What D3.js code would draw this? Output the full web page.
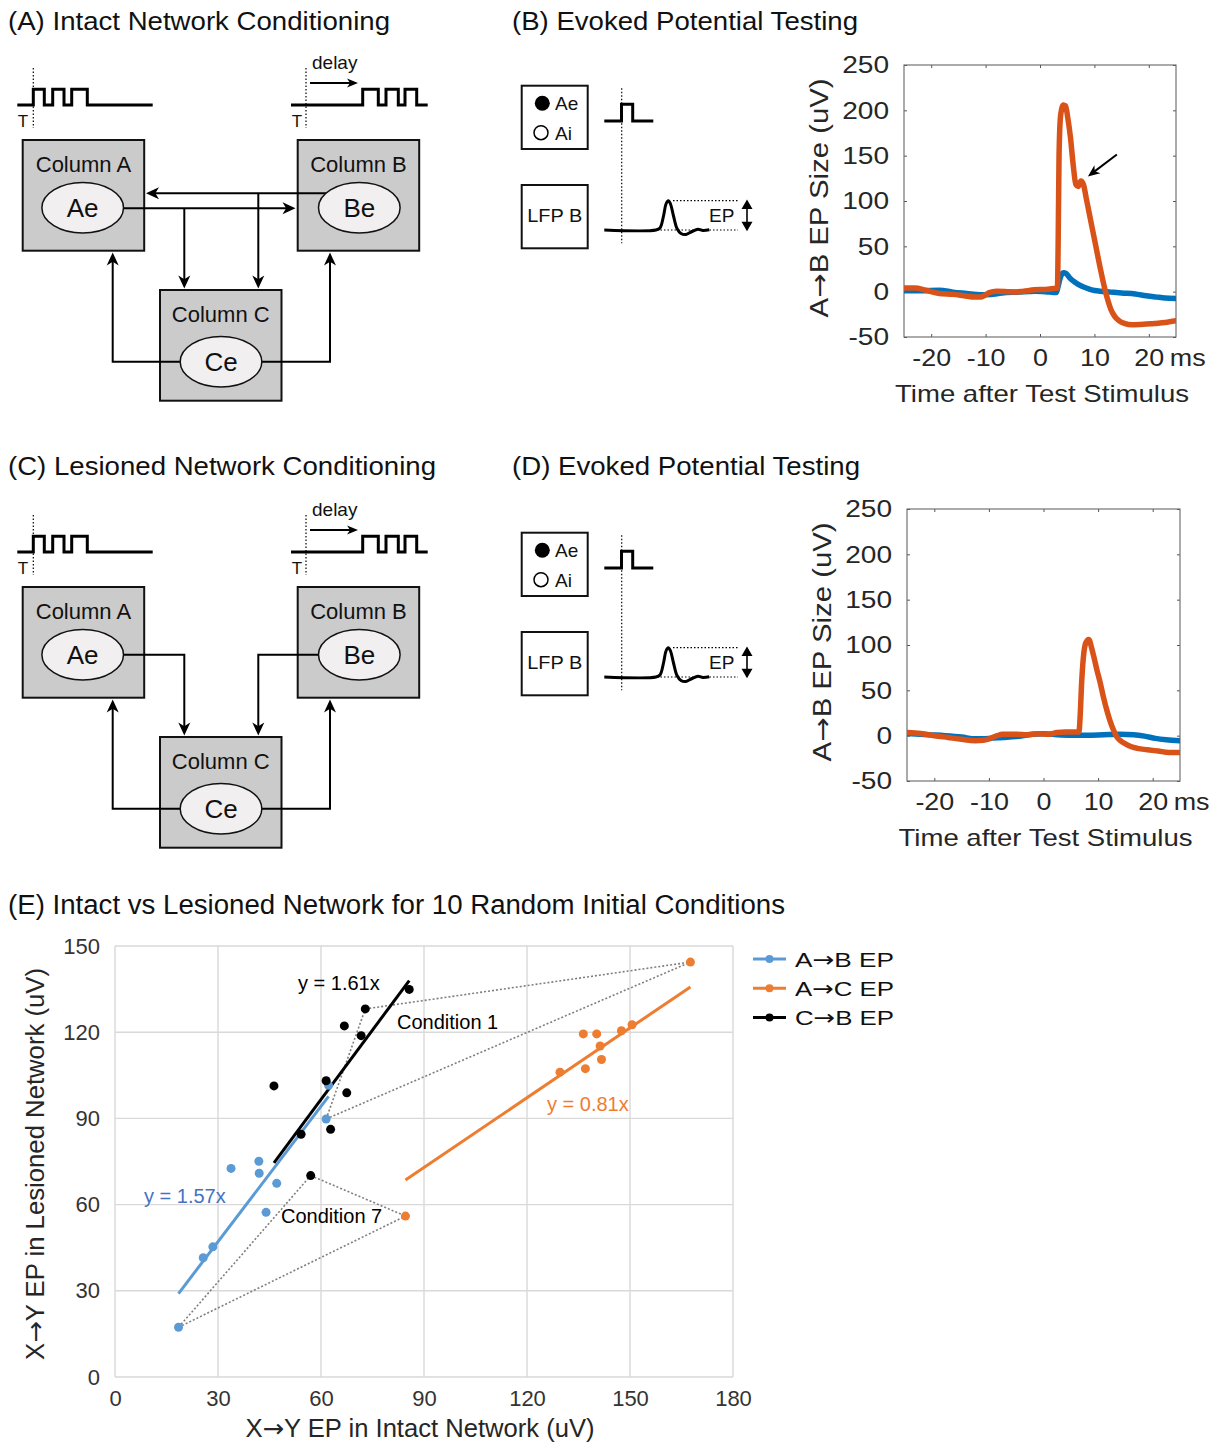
<!DOCTYPE html>
<html>
<head>
<meta charset="utf-8">
<title>Network conditioning and evoked potentials</title>
<script src="https://cdn.jsdelivr.net/npm/d3@7"></script>
<style>
  html, body { margin: 0; padding: 0; background: #fff; }
  svg { display: block; }
  text { font-family: "Liberation Sans", Arial, Helvetica, sans-serif; }
  tspan.arr { font-family: "DejaVu Sans", sans-serif; }
</style>
</head>
<body>
<svg id="fig" width="1213" height="1444" viewBox="0 0 1213 1444"></svg>
<script>
// ---------- Evoked potential traces: [time after test stimulus (ms), EP (uV)] ----------
const timeTicks = [-20, -10, 0, 10, 20];
const epTicks = [-50, 0, 50, 100, 150, 200, 250];

const intactOrange = [[-25,4],[-23,4],[-21,1.5],[-18.5,-2],[-16,-3],[-14,-4.5],[-12,-6],[-11,-6],
  [-10,-3.5],[-9.3,-1],[-8,0.5],[-6,0],[-4.5,-0.5],[-3,0.5],[-1,2],[1,2.5],[2.5,3.5],[3.2,4],
  [3.35,60],[3.5,150],[3.8,195],[4.3,206],[4.7,205],[5.1,192],[5.6,170],[6.1,140],[6.6,118],
  [7.0,116],[7.5,122],[8.0,118],[8.5,103],[9.0,88],[9.5,73],[10.0,58],[10.5,43],[11.0,28],
  [11.5,14],[12.0,1],[12.5,-10],[13.0,-19],[13.7,-27],[14.5,-32],[15.5,-35],[17,-36.5],
  [19,-36],[21,-35],[23,-34],[25,-32]];
const intactBlue = [[-25,1],[-22,1],[-18.5,1.5],[-16,-0.5],[-13.5,-2],[-11,-3.5],[-9,-3],[-7,-1.5],
  [-4,-0.5],[-1,0.5],[1,0],[3,-1],[3.3,5],[3.7,15],[4.3,21],[4.8,20],[5.5,15],[6.5,10],[7.5,6.5],
  [8.5,4],[9.5,2],[11,0.5],[13,-0.5],[15,-1.5],[17.5,-2.5],[19.5,-4.5],[21.5,-6],[23,-7],[25,-7.5]];
const lesionedOrange = [[-25,3.5],[-22.5,2.5],[-20,0],[-17.5,-2],[-15,-4],[-12.5,-5.5],[-11,-5],
  [-10,-3.5],[-8.5,0],[-7.5,1.5],[-5,1.5],[-3,1],[-1,2],[1,1.5],[2.5,3.5],[4,4],[6.5,4],[6.7,20],
  [7.0,60],[7.4,92],[7.8,103],[8.3,106],[8.8,97],[9.3,85],[9.8,72],[10.4,58],[11,42],[11.6,28],
  [12.2,16],[12.9,5],[13.5,-2],[14.2,-6],[15,-9],[16,-12],[17.2,-14],[19,-15.5],[21,-17],
  [23,-18.5],[25,-18.5]];
const lesionedBlue = [[-25,2.5],[-21,1],[-18,0],[-15,-1.5],[-12.5,-3.5],[-10,-3],[-7.5,-2],[-5,-1],
  [-2,1.5],[0,2],[2.5,1],[5,0.5],[8,0.5],[11,1],[14,1.5],[16.5,1],[18.5,-0.5],[20.5,-3],
  [22.5,-4.5],[25,-5.5]];

// ---------- Panel E: EP sizes (uV) for 10 initial conditions (index 0 = Condition 1) ----------
const conditionIds = [1, 2, 3, 4, 5, 6, 7, 8, 9, 10];
const abIntact   = [61.5, 25.7, 28.5, 33.8, 41.9, 42.0, 18.5, 47.1, 44.0, 62.2];
const abLesioned = [89.8, 41.5, 45.3, 72.6, 75.1, 70.9, 17.3, 67.4, 57.3, 101.5];
const acIntact   = [167.6, 136.4, 140.3, 147.5, 150.6, 141.3, 84.6, 141.7, 137.0, 129.6];
const acLesioned = [144.4, 119.4, 119.4, 120.5, 122.6, 115.2, 56.0, 110.5, 107.3, 106.1];
const cbIntact   = [72.9, 85.7, 66.8, 71.7, 46.3, 61.5, 57.0, 67.5, 54.2, 62.8];
const cbLesioned = [128.1, 134.9, 122.2, 118.8, 101.3, 103.1, 70.1, 98.9, 84.5, 86.2];
const fitSlopes = [1.57, 0.81, 1.61];          // A->B, A->C, C->B
const seriesNames = ['A\u2192B EP', 'A\u2192C EP', 'C\u2192B EP'];
const highlighted = [1, 7];                      // conditions linked by dotted lines
const xTicksE = [0, 30, 60, 90, 120, 150, 180];
const yTicksE = [0, 30, 60, 90, 120, 150];

// ---------- helpers ----------
const svg = d3.select('#fig');
svg.append('rect').attr('width', 1213).attr('height', 1444).attr('fill', '#fff');
const defs = svg.append('defs');

function fitWidth(sel, w) {
  sel.attr('textLength', w).attr('lengthAdjust', 'spacingAndGlyphs');
}
function stretch(sel, k) {
  sel.each(function () {
    const w = this.getComputedTextLength();
    d3.select(this).attr('textLength', w * k).attr('lengthAdjust', 'spacingAndGlyphs');
  });
}
// writes a label, setting any arrow glyph in a font with a long, thin arrow
function arrowLabel(sel, str) {
  const parts = str.split('\u2192');
  parts.forEach((p, i) => {
    if (i > 0) sel.append('tspan').attr('class', 'arr').text('\u2192');
    if (p) sel.append('tspan').text(p);
  });
  return sel;
}
// filled concave arrow head with its tip at (x, y) pointing along angle (degrees)
function arrowHead(g, x, y, angle, len = 13, half = 6) {
  g.append('path')
    .attr('d', `M0,0 L${-len},${-half} L${-len * 0.72},0 L${-len},${half} Z`)
    .attr('transform', `translate(${x},${y}) rotate(${angle})`)
    .attr('fill', '#000');
}
// polyline ending in an arrow head
function arrow(g, pts, len = 13, half = 6, width = 2) {
  const n = pts.length;
  const [xa, ya] = pts[n - 2], [xb, yb] = pts[n - 1];
  const ang = Math.atan2(yb - ya, xb - xa);
  const cut = pts.slice(0, n - 1).concat([[xb - Math.cos(ang) * len * 0.6, yb - Math.sin(ang) * len * 0.6]]);
  g.append('path').attr('d', d3.line()(cut)).attr('fill', 'none')
    .attr('stroke', '#000').attr('stroke-width', width);
  arrowHead(g, xb, yb, ang * 180 / Math.PI, len, half);
}

// ---------- panel titles ----------
const titles = [
  { t: '(A) Intact Network Conditioning', x: 8, y: 30, w: 382, fs: 26 },
  { t: '(B) Evoked Potential Testing', x: 512, y: 30, w: 346, fs: 26 },
  { t: '(C) Lesioned Network Conditioning', x: 8, y: 475, w: 428, fs: 26 },
  { t: '(D) Evoked Potential Testing', x: 512, y: 475, w: 348, fs: 26 },
  { t: '(E) Intact vs Lesioned Network for 10 Random Initial Conditions', x: 8, y: 914, w: 777, fs: 27 }
];
titles.forEach(d => {
  svg.append('text').attr('x', d.x).attr('y', d.y).attr('font-size', d.fs)
    .attr('fill', '#111').text(d.t).call(fitWidth, d.w);
});

// ---------- conditioning diagrams (A, C) ----------
function drawTrain(g, x0, x1, pulses) {
  const base = 105, top = 89.3;
  const pts = [[x0, base]];
  pulses.forEach(([a, b]) => { pts.push([a, base], [a, top], [b, top], [b, base]); });
  pts.push([x1, base]);
  g.append('path').attr('d', d3.line()(pts)).attr('fill', 'none')
    .attr('stroke', '#000').attr('stroke-width', 3).attr('stroke-linejoin', 'miter');
}

function drawConditioning(offY, lesioned) {
  const g = svg.append('g').attr('transform', `translate(0,${offY})`);

  // stimulus trains with trigger markers
  drawTrain(g, 17.3, 152.7, [[33.3, 44.3], [52.7, 64], [71.7, 87.3]]);
  drawTrain(g, 291, 427.7, [[362.7, 378.3], [386, 398.3], [405, 416.7]]);
  [33.3, 306].forEach(x => {
    g.append('line').attr('x1', x).attr('x2', x).attr('y1', 68).attr('y2', 128)
      .attr('stroke', '#000').attr('stroke-width', 1.2).attr('stroke-dasharray', '1.5 2');
  });
  [[23, 'T'], [297, 'T']].forEach(([x, t]) => {
    g.append('text').attr('x', x).attr('y', 127).attr('font-size', 17)
      .attr('text-anchor', 'middle').attr('fill', '#111').text(t);
  });
  g.append('text').attr('x', 312).attr('y', 69).attr('font-size', 19).attr('fill', '#111').text('delay');
  arrow(g, [[310, 83], [358, 83]], 11, 4.5, 2);

  // columns
  const cols = [
    { x: 22.7, y: 140, label: 'Column A', cell: 'Ae', cx: 82.7, cy: 207.7 },
    { x: 297.7, y: 140, label: 'Column B', cell: 'Be', cx: 359.3, cy: 207.7 },
    { x: 160, y: 290, label: 'Column C', cell: 'Ce', cx: 221, cy: 361.7 }
  ];
  const bw = 121.5, bh = 110.7;
  cols.forEach(c => {
    g.append('rect').attr('x', c.x).attr('y', c.y).attr('width', bw).attr('height', bh)
      .attr('fill', '#cbcbcb').attr('stroke', '#111').attr('stroke-width', 2);
    g.append('text').attr('x', c.x + bw / 2).attr('y', c.y + 32).attr('font-size', 22)
      .attr('text-anchor', 'middle').attr('fill', '#111').text(c.label);
  });

  // connections
  if (!lesioned) {
    arrow(g, [[330, 193.3], [146, 193.3]]);
    arrow(g, [[100, 208.3], [295.5, 208.3]]);
    arrow(g, [[184.3, 208.3], [184.3, 288.5]]);
    arrow(g, [[258.3, 193.3], [258.3, 288.5]]);
  } else {
    arrow(g, [[100, 207.7], [184.3, 207.7], [184.3, 288.5]]);
    arrow(g, [[340, 207.7], [258.3, 207.7], [258.3, 288.5]]);
  }
  arrow(g, [[200, 361.7], [112.7, 361.7], [112.7, 252.5]]);
  arrow(g, [[240, 361.7], [330, 361.7], [330, 252.5]]);

  // excitatory populations
  cols.forEach(c => {
    g.append('ellipse').attr('cx', c.cx).attr('cy', c.cy).attr('rx', 40.8).attr('ry', 25.3)
      .attr('fill', '#f1efef').attr('stroke', '#111').attr('stroke-width', 1.5);
    g.append('text').attr('x', c.cx).attr('y', c.cy).attr('dy', '0.35em').attr('font-size', 26)
      .attr('text-anchor', 'middle').attr('fill', '#111').text(c.cell);
  });
}
drawConditioning(0, false);
drawConditioning(447, true);

// ---------- test protocol insets (B, D) ----------
function drawInset(offY) {
  const g = svg.append('g').attr('transform', `translate(0,${offY})`);
  [85.7, 185].forEach(y => {
    g.append('rect').attr('x', 521.7).attr('y', y).attr('width', 66).attr('height', 63.3)
      .attr('fill', '#fff').attr('stroke', '#111').attr('stroke-width', 2);
  });
  g.append('circle').attr('cx', 542.3).attr('cy', 103.3).attr('r', 7.5).attr('fill', '#000');
  g.append('circle').attr('cx', 541).attr('cy', 132.7).attr('r', 7).attr('fill', '#fff')
    .attr('stroke', '#000').attr('stroke-width', 1.5);
  g.append('text').attr('x', 555).attr('y', 110).attr('font-size', 19).attr('fill', '#111').text('Ae');
  g.append('text').attr('x', 555).attr('y', 139.5).attr('font-size', 19).attr('fill', '#111').text('Ai');
  g.append('text').attr('x', 554.7).attr('y', 222).attr('font-size', 19).attr('text-anchor', 'middle')
    .attr('fill', '#111').text('LFP B').call(fitWidth, 55);

  // test pulse
  g.append('path').attr('d', d3.line()([[604.3, 121], [621.5, 121], [621.5, 104.3], [632.7, 104.3],
    [632.7, 121], [653.3, 121]])).attr('fill', 'none').attr('stroke', '#000').attr('stroke-width', 3);
  g.append('line').attr('x1', 621.7).attr('x2', 621.7).attr('y1', 88.3).attr('y2', 243.3)
    .attr('stroke', '#000').attr('stroke-width', 1.2).attr('stroke-dasharray', '1.5 2');

  // evoked response sketch
  const wave = [[604.3, 230], [656, 230], [660, 228], [663.5, 216], [666, 204], [668.3, 200.7],
    [670.5, 204], [673.5, 216], [677, 228.5], [681, 233.5], [686, 234.5], [692, 231.5],
    [698, 229.3], [703, 230.5], [709.3, 229.8]];
  g.append('path').attr('d', d3.line().curve(d3.curveCatmullRom)(wave)).attr('fill', 'none')
    .attr('stroke', '#000').attr('stroke-width', 3);
  [[673, 200.7], [657, 230]].forEach(([x0, y]) => {
    g.append('line').attr('x1', x0).attr('x2', 738).attr('y1', y).attr('y2', y)
      .attr('stroke', '#000').attr('stroke-width', 1.2).attr('stroke-dasharray', '1.5 2');
  });
  g.append('text').attr('x', 709).attr('y', 222).attr('font-size', 19).attr('fill', '#111').text('EP');
  g.append('line').attr('x1', 747).attr('x2', 747).attr('y1', 207).attr('y2', 224)
    .attr('stroke', '#000').attr('stroke-width', 1.6);
  g.append('path').attr('d', 'M747,199.5 L752.5,209 L741.5,209 Z').attr('fill', '#000');
  g.append('path').attr('d', 'M747,231.2 L752.5,221.7 L741.5,221.7 Z').attr('fill', '#000');
}
drawInset(0);
drawInset(447);

// ---------- EP time courses (B, D) ----------
function drawEP(cfg) {
  const x = d3.scaleLinear().domain([-25, 25]).range([cfg.x0, cfg.x1]);
  const y = d3.scaleLinear().domain([-50, 250]).range([cfg.y1, cfg.y0]);
  const g = svg.append('g');
  const clipId = 'clip-' + cfg.id;
  defs.append('clipPath').attr('id', clipId).append('rect')
    .attr('x', cfg.x0).attr('y', cfg.y0).attr('width', cfg.x1 - cfg.x0).attr('height', cfg.y1 - cfg.y0);

  const fmt = d => String(d);
  const style = a => {
    a.select('.domain').remove();
    a.selectAll('.tick line').attr('stroke', '#555').attr('stroke-width', 1);
    a.selectAll('text').attr('font-size', 24).attr('fill', '#262626')
      .attr('font-family', '"Liberation Sans", Arial, sans-serif');
  };
  g.append('g').attr('transform', `translate(0,${cfg.y1})`)
    .call(d3.axisBottom(x).tickValues(timeTicks).tickFormat(fmt).tickSizeInner(-3).tickSizeOuter(0).tickPadding(12))
    .call(style).call(a => a.selectAll('text').call(stretch, 1.12));
  g.append('g').attr('transform', `translate(0,${cfg.y0})`)
    .call(d3.axisTop(x).tickValues(timeTicks).tickFormat('').tickSizeInner(-3).tickSizeOuter(0)).call(style);
  g.append('g').attr('transform', `translate(${cfg.x0},0)`)
    .call(d3.axisLeft(y).tickValues(epTicks).tickFormat(fmt).tickSizeInner(-3).tickSizeOuter(0).tickPadding(15))
    .call(style).call(a => a.selectAll('text').call(stretch, 1.17));
  g.append('g').attr('transform', `translate(${cfg.x1},0)`)
    .call(d3.axisRight(y).tickValues(epTicks).tickFormat('').tickSizeInner(-3).tickSizeOuter(0)).call(style);

  g.append('text').attr('x', x(20) + 21).attr('y', cfg.y1 + 12).attr('dy', '0.71em')
    .attr('font-size', 24).attr('fill', '#262626').text('ms').call(stretch, 1.12);

  g.append('rect').attr('x', cfg.x0).attr('y', cfg.y0).attr('width', cfg.x1 - cfg.x0)
    .attr('height', cfg.y1 - cfg.y0).attr('fill', 'none').attr('stroke', '#666').attr('stroke-width', 1.1);

  const line = d3.line().x(d => x(d[0])).y(d => y(d[1])).curve(d3.curveMonotoneX);
  const plot = g.append('g').attr('clip-path', `url(#${clipId})`);
  [[cfg.blue, '#0072BD'], [cfg.orange, '#D95319']].forEach(([data, color]) => {
    plot.append('path').attr('d', line(data)).attr('fill', 'none').attr('stroke', color)
      .attr('stroke-width', 5.5).attr('stroke-linejoin', 'round').attr('stroke-linecap', 'round');
  });

  g.append('text').attr('transform', `translate(${cfg.x0 - 85},${(cfg.y0 + cfg.y1) / 2 - 3}) rotate(-90)`)
    .attr('text-anchor', 'middle').attr('dy', '0.35em').attr('font-size', 25).attr('fill', '#262626')
    .call(arrowLabel, 'A\u2192B EP Size (uV)').call(fitWidth, 239);
  g.append('text').attr('x', (cfg.x0 + cfg.x1) / 2 + 2).attr('y', cfg.y1 + 65).attr('font-size', 24)
    .attr('text-anchor', 'middle').attr('fill', '#262626').text('Time after Test Stimulus').call(fitWidth, 294);

  if (cfg.marker) {
    // arrow pointing at the secondary hump of the orange trace
    const [tx, ty] = [x(cfg.marker[0]), y(cfg.marker[1])];
    arrow(g, [[tx + 29, ty - 22], [tx, ty]], 12, 5, 2);
  }
}
drawEP({ id: 'b', x0: 904, x1: 1176, y0: 65, y1: 337, blue: intactBlue, orange: intactOrange, marker: [8.8, 127] });
drawEP({ id: 'd', x0: 907, x1: 1180, y0: 509, y1: 781, blue: lesionedBlue, orange: lesionedOrange });

// ---------- Panel E: intact vs lesioned scatter ----------
const xE = d3.scaleLinear().domain([0, 180]).range([115, 733]);
const yE = d3.scaleLinear().domain([0, 150]).range([1377, 946]);
const gE = svg.append('g');

gE.selectAll('line.vgrid').data(xTicksE).join('line').attr('class', 'vgrid')
  .attr('x1', d => xE(d)).attr('x2', d => xE(d)).attr('y1', yE(0)).attr('y2', yE(150))
  .attr('stroke', '#d9d9d9').attr('stroke-width', 1.4);
gE.selectAll('line.hgrid').data(yTicksE).join('line').attr('class', 'hgrid')
  .attr('x1', xE(0)).attr('x2', xE(180)).attr('y1', d => yE(d)).attr('y2', d => yE(d))
  .attr('stroke', '#d9d9d9').attr('stroke-width', 1.4);

const styleE = a => {
  a.select('.domain').remove();
  a.selectAll('.tick line').remove();
  a.selectAll('text').attr('font-size', 22).attr('fill', '#333')
    .attr('font-family', '"Liberation Sans", Arial, sans-serif');
};
gE.append('g').attr('transform', `translate(0,${yE(0)})`)
  .call(d3.axisBottom(xE).tickValues(xTicksE).tickFormat(d => String(d)).tickSize(0).tickPadding(13)).call(styleE);
gE.append('g').attr('transform', `translate(${xE(0)},0)`)
  .call(d3.axisLeft(yE).tickValues(yTicksE).tickFormat(d => String(d)).tickSize(0).tickPadding(15)).call(styleE);

gE.append('text').attr('x', 420).attr('y', 1437).attr('text-anchor', 'middle').attr('font-size', 25)
  .attr('fill', '#262626').call(arrowLabel, 'X\u2192Y EP in Intact Network (uV)').call(fitWidth, 349);
gE.append('text').attr('transform', 'translate(35,1164) rotate(-90)').attr('text-anchor', 'middle')
  .attr('dy', '0.35em').attr('font-size', 25).attr('fill', '#262626')
  .call(arrowLabel, 'X\u2192Y EP in Lesioned Network (uV)').call(fitWidth, 392);

const seriesColors = ['#5B9BD5', '#ED7D31', '#000000'];
const series = [
  { xs: abIntact, ys: abLesioned },
  { xs: acIntact, ys: acLesioned },
  { xs: cbIntact, ys: cbLesioned }
].map((s, i) => ({ ...s, slope: fitSlopes[i], color: seriesColors[i], name: seriesNames[i] }));

// dotted links joining the three EPs of selected conditions
highlighted.forEach(c => {
  const i = conditionIds.indexOf(c);
  const p = series.map(s => [xE(s.xs[i]), yE(s.ys[i])]);
  [[0, 2], [2, 1], [0, 1]].forEach(([a, b]) => {
    gE.append('line').attr('x1', p[a][0]).attr('y1', p[a][1]).attr('x2', p[b][0]).attr('y2', p[b][1])
      .attr('stroke', '#7f7f7f').attr('stroke-width', 1.6).attr('stroke-dasharray', '2 2');
  });
});

// zero-intercept trend lines
series.forEach(s => {
  const [lo, hi] = d3.extent(s.xs);
  gE.append('line').attr('x1', xE(lo)).attr('y1', yE(s.slope * lo)).attr('x2', xE(hi)).attr('y2', yE(s.slope * hi))
    .attr('stroke', s.color).attr('stroke-width', 3);
});

// data points
series.forEach(s => {
  gE.append('g').selectAll('circle').data(conditionIds).join('circle')
    .attr('cx', (d, i) => xE(s.xs[i])).attr('cy', (d, i) => yE(s.ys[i])).attr('r', 4.5)
    .attr('fill', s.color);
});

// annotations
const notes = [
  { t: `y = ${fitSlopes[2]}x`, x: 298, y: 990, c: '#000' },
  { t: 'Condition 1', x: 397, y: 1029, c: '#000' },
  { t: `y = ${fitSlopes[1]}x`, x: 547, y: 1111, c: '#ED7D31' },
  { t: `y = ${fitSlopes[0]}x`, x: 144, y: 1203, c: '#4472C4' },
  { t: 'Condition 7', x: 281, y: 1223, c: '#000' }
];
notes.forEach(n => {
  gE.append('text').attr('x', n.x).attr('y', n.y).attr('font-size', 20).attr('fill', n.c).text(n.t);
});

// legend
const leg = gE.append('g');
series.forEach((s, i) => {
  const yy = 959 + i * 29.3;
  leg.append('line').attr('x1', 753).attr('x2', 786).attr('y1', yy).attr('y2', yy)
    .attr('stroke', s.color).attr('stroke-width', 3);
  leg.append('circle').attr('cx', 769.5).attr('cy', yy).attr('r', 4).attr('fill', s.color);
  leg.append('text').attr('x', 795).attr('y', yy).attr('dy', '0.36em').attr('font-size', 21)
    .attr('fill', '#111').call(arrowLabel, s.name).call(fitWidth, 99);
});
</script>
</body>
</html>
